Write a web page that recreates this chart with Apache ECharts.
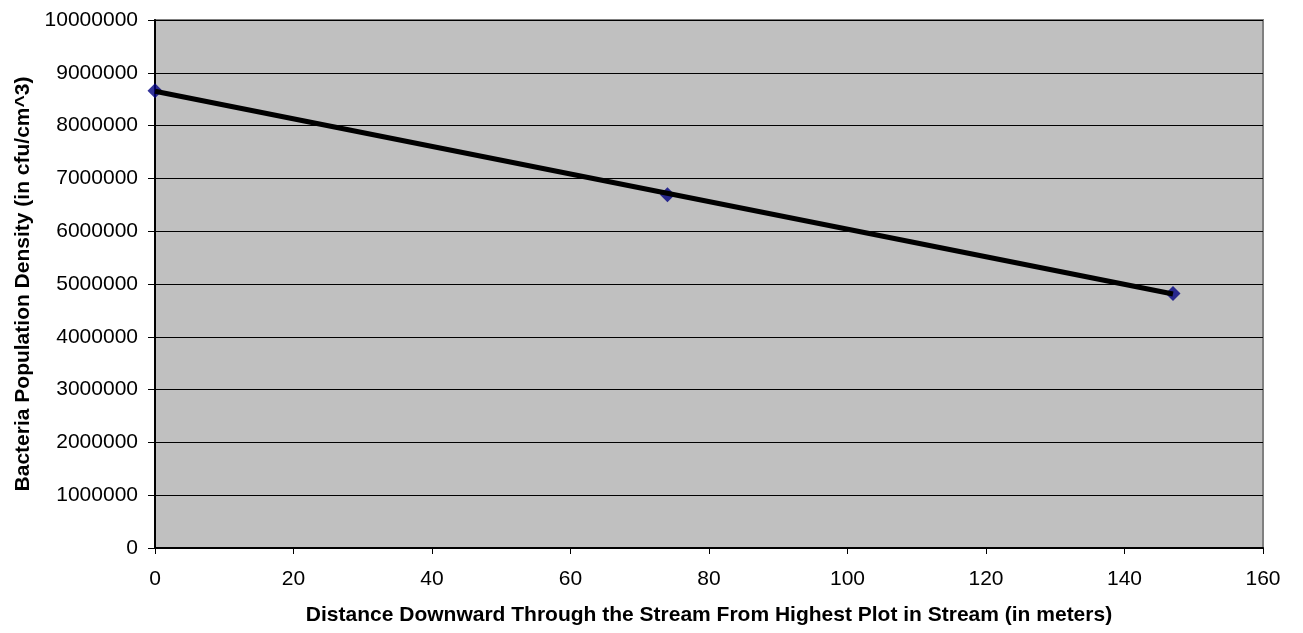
<!DOCTYPE html>
<html>
<head>
<meta charset="utf-8">
<script src="https://cdn.jsdelivr.net/npm/echarts@6/dist/echarts.min.js"></script>
<style>
html,body{margin:0;padding:0;background:#fff;}
#chart{width:1303px;height:633px;}
</style>
</head>
<body>
<div id="chart"></div>
<script>
// Data
const distances = [0, 74, 147];
const densities = [8660000, 6690000, 4820000];
// Linear trend line endpoints
const trendX = [0, 147];
const trendY = [8650000, 4810000];

const xTitle = 'Distance Downward Through the Stream From Highest Plot in Stream (in meters)';
const yTitle = 'Bacteria Population Density (in cfu/cm^3)';

const xMin = 0, xMax = 160, xStep = 20;
const yMin = 0, yMax = 10000000, yStep = 1000000;

const chart = echarts.init(document.getElementById('chart'));
const font = '"Liberation Sans", Arial, sans-serif';

chart.setOption({
  animation: false,
  grid: {
    left: 155, top: 20, right: 40, bottom: 85,
    show: true, backgroundColor: '#C0C0C0',
    borderColor: '#808080', borderWidth: 2
  },
  xAxis: {
    type: 'value', min: xMin, max: xMax, interval: xStep,
    name: xTitle, nameLocation: 'middle', nameGap: 57,
    nameTextStyle: { fontFamily: font, fontSize: 21, fontWeight: 'bold', color: '#000', verticalAlign: 'top' },
    axisLine: { show: true, onZero: false, lineStyle: { color: '#000', width: 2 } },
    axisTick: { show: true, length: 6, lineStyle: { color: '#000', width: 1 } },
    axisLabel: { margin: 21, fontFamily: font, fontSize: 21, color: '#000' },
    splitLine: { show: false }
  },
  yAxis: {
    type: 'value', min: yMin, max: yMax, interval: yStep,
    name: yTitle, nameLocation: 'middle', nameGap: 118,
    nameTextStyle: { fontFamily: font, fontSize: 21, fontWeight: 'bold', color: '#000' },
    axisLine: { show: true, onZero: false, lineStyle: { color: '#000', width: 2 } },
    axisTick: { show: true, length: 7, lineStyle: { color: '#000', width: 1 } },
    axisLabel: { margin: 17, fontFamily: font, fontSize: 21, color: '#000', formatter: v => String(v) },
    splitLine: { show: true, lineStyle: { color: '#000', width: 1 } }
  },
  series: [
    {
      type: 'scatter',
      data: distances.map((d, i) => [d, densities[i]]),
      symbol: 'diamond', symbolSize: 15,
      itemStyle: { color: '#000080' },
      z: 2
    },
    {
      type: 'line',
      data: trendX.map((d, i) => [d, trendY[i]]),
      showSymbol: false, symbol: 'none',
      lineStyle: { color: '#000', width: 5 },
      z: 3
    }
  ]
});
</script>
</body>
</html>
